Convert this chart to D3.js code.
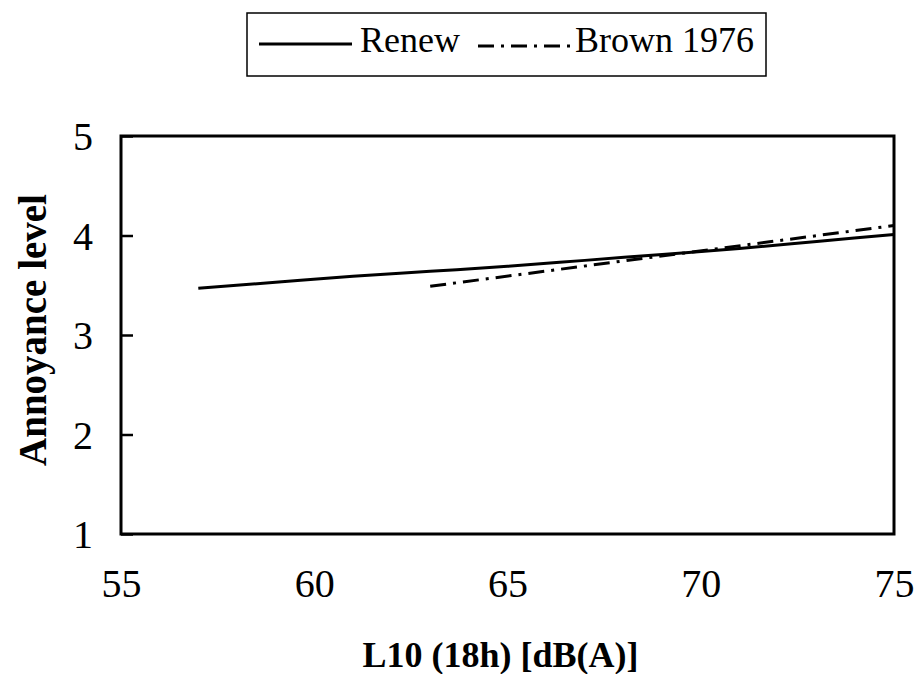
<!DOCTYPE html>
<html>
<head>
<meta charset="utf-8">
<script src="https://cdn.jsdelivr.net/npm/d3@7"></script>
<style>
  body { margin: 0; background: #fff; }
  svg { display: block; font-family: "Liberation Serif", "DejaVu Serif", serif; }
</style>
</head>
<body>
<div id="chart"></div>
<script>
    // data
    var renewX = [57, 59, 61, 63, 65, 67, 69, 71, 73, 75];
    var renewY = [3.47, 3.53, 3.59, 3.64, 3.69, 3.75, 3.81, 3.87, 3.94, 4.01];
    var brownX = [63, 75];
    var brownY = [3.49, 4.10];
    var xTicks = [55, 60, 65, 70, 75];
    var yTicks = [1, 2, 3, 4, 5];
    var seriesNames = ["Renew", "Brown 1976"];

    var svgWidth = 917;
    var svgHeight = 674;

    var margin = {
        top: 136,
        bottom: 140,
        right: 23,
        left: 121
    };

    var plot_width = svgWidth - margin.left - margin.right;
    var plot_height = svgHeight - margin.top - margin.bottom;

    var svg = d3.select("#chart")
        .append("svg")
        .attr("width", svgWidth)
        .attr("height", svgHeight);

    var chartGroup = svg.append("g")
        .attr("transform", `translate(${margin.left}, ${margin.top})`);

    var xScale = d3.scaleLinear().domain([55, 75]).range([0, plot_width]);
    var yScale = d3.scaleLinear().domain([1, 5]).range([plot_height, 0]);

    // y axis: inward ticks
    var yAxis = d3.axisRight(yScale).tickValues(yTicks).tickSize(12).tickFormat("");
    chartGroup.append("g").call(yAxis)
        .call(g => g.select(".domain").remove())
        .selectAll("line").attr("stroke", "#000").attr("stroke-width", 2.5);

    chartGroup.selectAll(".ylab")
        .data(yTicks)
        .enter()
        .append("text")
        .attr("x", -28)
        .attr("y", d => yScale(d))
        .attr("dy", "0.35em")
        .attr("text-anchor", "end")
        .attr("font-size", "40px")
        .text(d => d);

    var xAxis = d3.axisBottom(xScale).tickValues(xTicks).tickSize(0).tickPadding(35);
    chartGroup.append("g")
        .attr("transform", `translate(0, ${plot_height})`)
        .call(xAxis)
        .call(g => g.select(".domain").remove())
        .selectAll("text")
        .attr("font-family", "Liberation Serif, serif")
        .attr("font-size", "40px")
        .attr("fill", "#000");

    // frame
    chartGroup.append("rect")
        .attr("x", 0)
        .attr("y", 0)
        .attr("width", plot_width)
        .attr("height", plot_height)
        .attr("fill", "none")
        .attr("stroke", "#000")
        .attr("stroke-width", 3);

    var line = d3.line()
        .x(d => xScale(d[0]))
        .y(d => yScale(d[1]))
        .curve(d3.curveMonotoneX);

    chartGroup.append("path")
        .datum(d3.zip(brownX, brownY))
        .attr("d", line)
        .attr("fill", "none")
        .attr("stroke", "#000")
        .attr("stroke-width", 3)
        .attr("stroke-dasharray", "16,7,3,7");

    chartGroup.append("path")
        .datum(d3.zip(renewX, renewY))
        .attr("d", line)
        .attr("fill", "none")
        .attr("stroke", "#000")
        .attr("stroke-width", 3);

    // axis titles
    svg.append("text")
        .attr("x", margin.left + plot_width / 2 - 7)
        .attr("y", 667)
        .attr("text-anchor", "middle")
        .attr("font-size", "36px")
        .attr("font-weight", "bold")
        .text("L10 (18h) [dB(A)]");

    svg.append("text")
        .attr("transform", "translate(46, 330) rotate(-90)")
        .attr("text-anchor", "middle")
        .attr("font-size", "39px")
        .attr("font-weight", "bold")
        .text("Annoyance level");

    // legend
    var legend = svg.append("g");
    legend.append("rect")
        .attr("x", 247)
        .attr("y", 13)
        .attr("width", 519)
        .attr("height", 63)
        .attr("fill", "none")
        .attr("stroke", "#000")
        .attr("stroke-width", 1.5);

    legend.append("line")
        .attr("x1", 259).attr("x2", 352)
        .attr("y1", 44).attr("y2", 44)
        .attr("stroke", "#000").attr("stroke-width", 3);
    legend.append("text")
        .attr("x", 360).attr("y", 52)
        .attr("font-size", "36px")
        .text(seriesNames[0]);

    legend.append("line")
        .attr("x1", 478).attr("x2", 572)
        .attr("y1", 46).attr("y2", 46)
        .attr("stroke", "#000").attr("stroke-width", 3)
        .attr("stroke-dasharray", "16,7,3,7");
    legend.append("text")
        .attr("x", 575).attr("y", 52)
        .attr("font-size", "36px")
        .text(seriesNames[1]);
</script>
</body>
</html>
